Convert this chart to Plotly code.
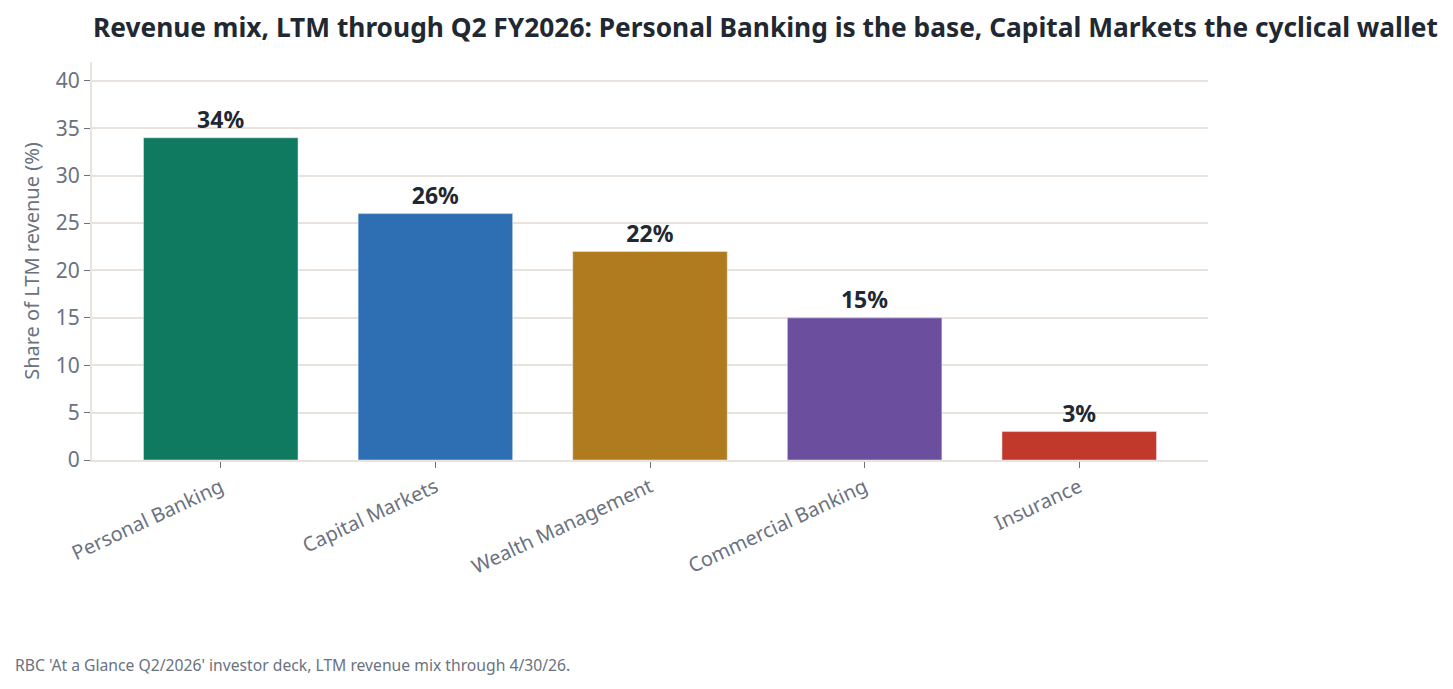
import plotly.graph_objects as go

segments = ["Personal Banking", "Capital Markets", "Wealth Management", "Commercial Banking", "Insurance"]
share = [34, 26, 22, 15, 3]
colors = ["#0f7a60", "#2e6fb3", "#b07b1f", "#6b4f9e", "#c0392b"]

W, H = 1453, 689
L, R, T, B = 84, 253, 54, 237

fig = go.Figure()
fig.add_trace(go.Bar(
    x=segments, y=share,
    marker_color=colors,
    text=[f"{v}%" for v in share],
    textposition="outside",
    textfont=dict(size=23, color="#222831", family="Noto Sans", weight="bold"),
    cliponaxis=False,
))

fig.update_layout(
    width=W, height=H,
    font=dict(family="Noto Sans", color="#6b7280"),
    plot_bgcolor="white", paper_bgcolor="white",
    margin=dict(l=L, r=R, t=T, b=B),
    bargap=0.28,
    showlegend=False,
    title=dict(
        text="<b>Revenue mix, LTM through Q2 FY2026: Personal Banking is the base, Capital Markets the cyclical wallet</b>",
        x=85 / W, xref="container", xanchor="left",
        y=1 - 20 / H, yref="container", yanchor="middle",
        font=dict(size=26.3, color="#222831"),
    ),
)

fig.update_xaxes(
    range=[-0.6, 4.6],
    tickangle=-25, tickfont=dict(size=20, color="#6b7280"),
    ticks="outside", ticklen=6, tickcolor="#6b7280",
    showline=True, linecolor="#e8e3dd", linewidth=2,
)
fig.update_yaxes(
    range=[0, 42], dtick=5,
    title=dict(text="Share of LTM revenue (%)", font=dict(size=20, color="#6b7280"), standoff=11),
    tickfont=dict(size=21, color="#6b7280"),
    ticks="outside", ticklen=6, tickcolor="#6b7280",
    showgrid=True, gridcolor="#e8e3dd", gridwidth=1.5,
    showline=True, linecolor="#e8e3dd", linewidth=2,
    zeroline=False,
)

plot_w = W - L - R
plot_h = H - T - B
fig.add_annotation(
    text="RBC 'At a Glance Q2/2026' investor deck, LTM revenue mix through 4/30/26.",
    xref="paper", x=(5 - L) / plot_w, xanchor="left",
    yref="paper", y=((H - B) - 657) / plot_h, yanchor="middle",
    showarrow=False,
    font=dict(size=15.7, color="#6b7280"),
)

fig.write_html("out.html")
